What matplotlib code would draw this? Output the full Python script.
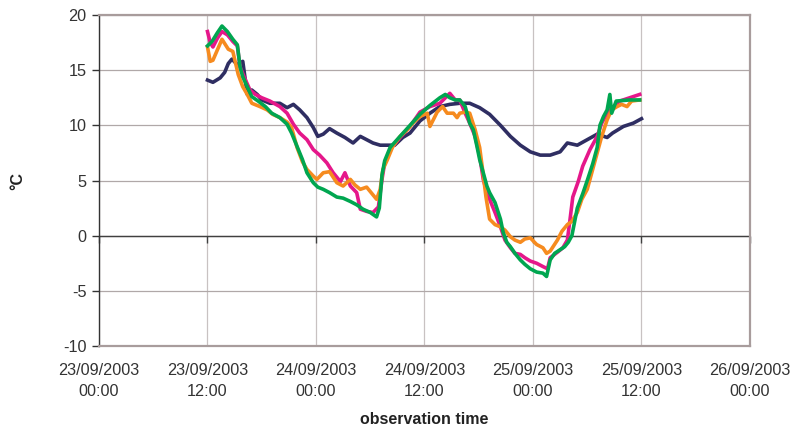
import matplotlib
matplotlib.use("Agg")
import matplotlib.pyplot as plt
import matplotlib.dates as mdates
import pandas as pd

plt.rcParams['font.family'] = ['Liberation Sans', 'DejaVu Sans']
plt.rcParams['axes.unicode_minus'] = False

START = pd.Timestamp("2003-09-23 00:00")

# hours since 23/09/2003 00:00 and temperature (°C) per series
navy_h = [12.0, 12.6, 13.4, 13.9, 14.3, 14.7, 15.3, 15.9, 16.4, 16.9, 17.5, 18.0, 18.9, 20.0, 20.8,
          21.5, 22.2, 23.0, 23.7, 24.2, 24.8, 25.5, 26.3, 27.2, 28.1, 28.9, 29.6, 30.3, 31.1, 31.9,
          32.7, 33.6, 34.4, 35.5, 36.6, 37.7, 38.8, 39.9, 41.0, 42.1, 43.2, 44.4, 45.5, 46.6, 47.7,
          48.8, 49.9, 51.0, 51.8, 52.9, 54.0, 55.1, 56.2, 56.8, 58.0, 59.1, 60.0]
navy_v = [14.1, 13.9, 14.3, 14.8, 15.6, 16.0, 15.5, 15.8, 12.8, 13.2, 12.8, 12.3, 12.0, 12.0, 11.6,
          11.9, 11.4, 10.7, 9.8, 9.0, 9.2, 9.7, 9.3, 8.9, 8.4, 9.0, 8.7, 8.4, 8.2, 8.2,
          8.2, 8.9, 9.3, 10.4, 11.1, 11.7, 11.9, 12.0, 12.0, 11.6, 11.0, 10.0, 9.0, 8.2, 7.6,
          7.3, 7.3, 7.6, 8.4, 8.2, 8.7, 9.2, 8.9, 9.3, 9.9, 10.2, 10.6]

magenta_h = [12.0, 12.3, 12.6, 13.1, 13.6, 14.2, 14.8, 15.3, 15.6, 16.1, 16.7, 17.3, 18.0, 18.9, 20.0,
             20.8, 21.5, 22.2, 23.0, 23.7, 24.4, 25.2, 25.9, 26.7, 27.2, 27.8, 28.5, 28.9, 29.6, 30.3,
             30.9, 31.3, 31.6, 32.2, 33.3, 34.4, 35.5, 36.6, 37.7, 38.8, 39.4, 39.9, 40.5, 41.0, 41.6,
             42.1, 42.5, 42.9, 43.2, 43.8, 44.4, 44.9, 45.5, 46.0, 46.6, 47.1, 47.7, 48.4, 49.1, 49.6,
             49.9, 50.7, 51.3, 51.8, 52.1, 52.4, 53.0, 53.5, 54.3, 55.1, 55.6, 56.2, 56.9, 57.6, 58.7,
             59.8]
magenta_v = [18.5, 17.5, 17.1, 17.9, 18.5, 18.2, 17.6, 17.2, 15.3, 14.3, 13.2, 12.8, 12.5, 12.2, 11.7,
             11.1, 10.1, 9.3, 8.7, 7.8, 7.3, 6.6, 5.7, 4.9, 5.7, 4.5, 3.9, 2.4, 2.2, 2.1,
             2.6, 5.1, 6.6, 7.8, 8.9, 9.9, 11.2, 11.7, 12.0, 12.9, 12.3, 12.3, 11.1, 10.2, 9.0,
             7.2, 5.1, 3.9, 3.3, 2.1, 0.8, -0.4, -1.1, -1.6, -1.7, -2.0, -2.3, -2.5, -2.8, -3.0,
             -2.0, -1.5, -1.1, -0.4, 1.5, 3.5, 4.9, 6.3, 7.8, 9.0, 10.2, 11.1, 11.7, 12.2, 12.5,
             12.8]

orange_h = [12.0, 12.3, 12.6, 13.6, 14.3, 14.8, 15.4, 15.9, 16.4, 16.9, 17.8, 18.6, 19.2, 20.0, 20.8,
            21.3, 21.9, 22.5, 23.0, 23.7, 24.1, 24.8, 25.5, 26.3, 27.0, 27.8, 28.3, 28.9, 29.6, 30.3,
            30.7, 31.1, 31.4, 31.9, 32.5, 33.3, 34.1, 34.7, 35.5, 36.3, 36.6, 37.4, 38.0, 38.5, 39.2,
            39.6, 39.9, 40.5, 41.0, 41.6, 42.1, 42.5, 42.8, 43.2, 43.8, 44.4, 44.9, 45.5, 46.0, 46.6,
            47.1, 47.7, 48.4, 49.1, 49.5, 49.9, 50.7, 51.2, 51.8, 52.3, 52.9, 53.4, 54.0, 54.5, 55.1,
            55.6, 56.2, 56.7, 57.3, 57.8, 58.4, 58.9, 59.8]
orange_v = [17.1, 15.8, 15.9, 17.8, 16.9, 16.7, 14.6, 13.5, 12.8, 12.0, 11.7, 11.4, 11.0, 10.7, 10.3,
            9.8, 8.0, 6.7, 6.0, 5.4, 5.1, 5.7, 5.8, 4.8, 4.5, 5.1, 4.6, 4.2, 4.4, 3.7,
            3.3, 4.2, 6.0, 6.9, 8.1, 9.0, 9.6, 10.2, 10.8, 11.1, 9.9, 11.2, 11.7, 11.1, 11.1,
            10.7, 11.1, 11.2, 11.1, 9.6, 8.0, 5.5, 3.5, 1.5, 1.0, 0.8, 0.5, -0.1, -0.4, -0.6,
            -0.3, -0.2, -0.8, -1.1, -1.6, -1.4, -0.4, 0.4, 1.0, 1.3, 2.1, 3.3, 4.2, 5.7, 7.5,
            9.0, 10.5, 11.4, 11.7, 11.9, 11.7, 12.2, 12.3]

green_h = [12.0, 12.5, 13.1, 13.6, 14.2, 14.8, 15.3, 15.6, 15.9, 16.4, 16.9, 17.6, 18.4, 19.1, 20.0,
           20.8, 21.3, 21.9, 22.5, 23.0, 23.7, 24.2, 24.8, 25.5, 26.3, 27.0, 27.8, 28.5, 29.2, 30.0,
           30.7, 31.0, 31.3, 31.6, 32.2, 33.3, 34.4, 35.5, 36.6, 37.7, 38.3, 38.8, 39.4, 39.9, 40.5,
           41.0, 41.4, 41.8, 42.1, 42.5, 42.9, 43.2, 43.8, 44.4, 44.7, 45.1, 45.5, 46.0, 46.6, 47.1,
           47.7, 48.4, 49.1, 49.5, 49.9, 50.4, 51.5, 51.9, 52.3, 52.9, 53.5, 54.0, 54.6, 55.1, 55.4,
           55.8, 56.2, 56.5, 56.7, 57.2, 58.7, 59.8]
green_v = [17.2, 17.6, 18.4, 19.0, 18.5, 17.8, 17.3, 15.3, 14.4, 13.5, 12.6, 12.2, 11.7, 11.1, 10.7,
           10.1, 9.3, 8.1, 6.9, 5.7, 4.8, 4.4, 4.2, 3.9, 3.5, 3.4, 3.1, 2.8, 2.4, 2.1,
           1.7, 2.5, 5.5, 6.8, 8.0, 9.0, 10.0, 11.0, 11.8, 12.5, 12.8, 12.5, 12.3, 12.3, 11.7,
           10.2, 9.6, 8.1, 6.9, 5.7, 4.5, 3.9, 3.0, 1.5, 0.3, -0.6, -1.0, -1.6, -2.2, -2.6,
           -3.0, -3.3, -3.4, -3.7, -2.2, -1.6, -1.0, -0.6, 0.0, 2.5, 3.8, 5.0, 6.5, 8.0, 10.0,
           10.8, 11.4, 12.8, 11.1, 12.2, 12.3, 12.3]

series = [
    (navy_h, navy_v, "#2F2E62"),
    (magenta_h, magenta_v, "#E5178A"),
    (orange_h, orange_v, "#F68B1F"),
    (green_h, green_v, "#00A650"),
]

y_ticks = [-10, -5, 0, 5, 10, 15, 20]
x_tick_hours = [0, 12, 24, 36, 48, 60, 72]

def to_time(hours):
    return START + pd.to_timedelta(hours, unit="h")

fig = plt.figure(figsize=(7.93, 4.32), dpi=100)
ax = fig.add_axes([99 / 793, 1 - 346 / 432, 651 / 793, 331 / 432])

xt = to_time(x_tick_hours)
for t in xt:
    ax.axvline(t, color="#C8C2C2", lw=0.9, zorder=0)
for v in y_ticks:
    ax.axhline(v, color="#B0A8A8", lw=0.9, zorder=0)
ax.axhline(0, color="#404040", lw=1.0, zorder=1)

for h, v, c in series:
    ax.plot(to_time(h), v, color=c, lw=2.6, solid_joinstyle="round", zorder=3)

# small tick marks on the zero line
ax.plot(xt, [0] * len(xt), linestyle="none", marker=3, markersize=5,
        markeredgewidth=1.0, color="#404040", zorder=2, clip_on=False)

ax.set_xlim(xt[0], xt[-1])
ax.set_ylim(-10, 20)
ax.set_yticks(y_ticks)
ax.set_xticks(xt)
ax.xaxis.set_major_formatter(mdates.DateFormatter("%d/%m/%Y\n%H:%M"))

for lab in ax.get_xticklabels():
    lab.set_linespacing(1.55)

ax.tick_params(axis="x", length=0, pad=12, labelsize=11.7, labelcolor="#333333")
ax.tick_params(axis="y", length=5, width=1.0, color="#333333", pad=4,
               labelsize=11.7, labelcolor="#333333")

ax.spines["left"].set_color("#333333")
ax.spines["left"].set_linewidth(1.0)
for s in ["top", "right", "bottom"]:
    ax.spines[s].set_color("#A89C9C")
    ax.spines[s].set_linewidth(1.6)

ax.set_xlabel("observation time", fontsize=11.5, fontweight="bold", color="#222222")
ax.xaxis.set_label_coords(0.5, -0.2)
ax.set_ylabel("°C", fontsize=11.5, fontweight="bold", color="#222222")
ax.yaxis.set_label_coords(-0.114, 0.5)

fig.savefig("out.png", dpi=100)
